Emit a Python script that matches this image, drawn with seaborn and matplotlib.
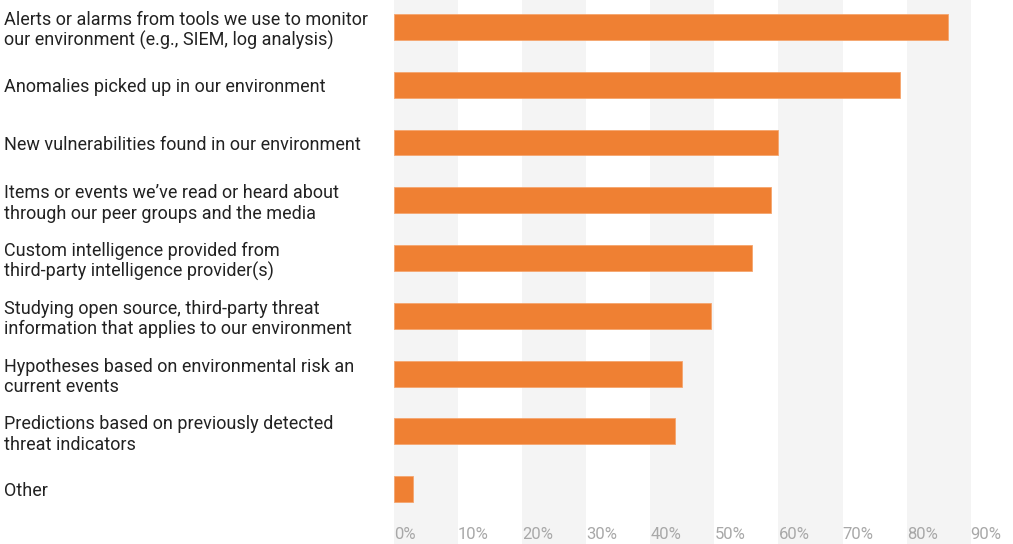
import matplotlib
matplotlib.use('Agg')
import matplotlib.pyplot as plt
import seaborn as sns
import pandas as pd

categories = [
    'Alerts or alarms from tools we use to monitor\nour environment (e.g., SIEM, log analysis)',
    'Anomalies picked up in our environment',
    'New vulnerabilities found in our environment',
    'Items or events we\u2019ve read or heard about\nthrough our peer groups and the media',
    'Custom intelligence provided from\nthird-party intelligence provider(s)',
    'Studying open source, third-party threat\ninformation that applies to our environment',
    'Hypotheses based on environmental risk an\ncurrent events',
    'Predictions based on previously detected\nthreat indicators',
    'Other',
]
values = [86.4, 78.9, 59.9, 58.9, 55.9, 49.4, 44.9, 43.9, 3.0]
xticks = [0, 10, 20, 30, 40, 50, 60, 70, 80, 90]
xtick_labels = [f'{t}%' for t in xticks]

sns.set_style('white')
plt.rcParams['font.family'] = ['Roboto', 'DejaVu Sans']

df = pd.DataFrame({'category': categories, 'value': values})

fig = plt.figure(figsize=(10.13, 5.44), dpi=100)
ax = fig.add_axes([394 / 1013, 0, 1 - 394 / 1013, 1])

# alternating grey column bands
for start in range(0, 90, 20):
    ax.axvspan(start, start + 10, color='#f4f4f4', zorder=0, lw=0)

sns.barplot(data=df, x='value', y='category', color='#ef8033', saturation=1,
            width=0.45, orient='h', ax=ax, zorder=2, edgecolor='#f5a56e', linewidth=0.6)

ax.set_xlim(0, 96.6)
ax.set_ylim(8.952, -0.4675)
ax.set_xlabel('')
ax.set_ylabel('')
for s in ax.spines.values():
    s.set_visible(False)

ax.set_xticks(xticks)
ax.set_xticklabels(xtick_labels, ha='left', fontsize=12, color='#a8a8a8')
ax.tick_params(axis='x', length=0, pad=-12.5)

ax.set_yticks(range(len(categories)))
ax.set_yticklabels(categories, ha='left', fontsize=13, color='#222222', linespacing=1.17)
ax.tick_params(axis='y', length=0, pad=390 * 0.72)

fig.savefig('out.png', dpi=100)
